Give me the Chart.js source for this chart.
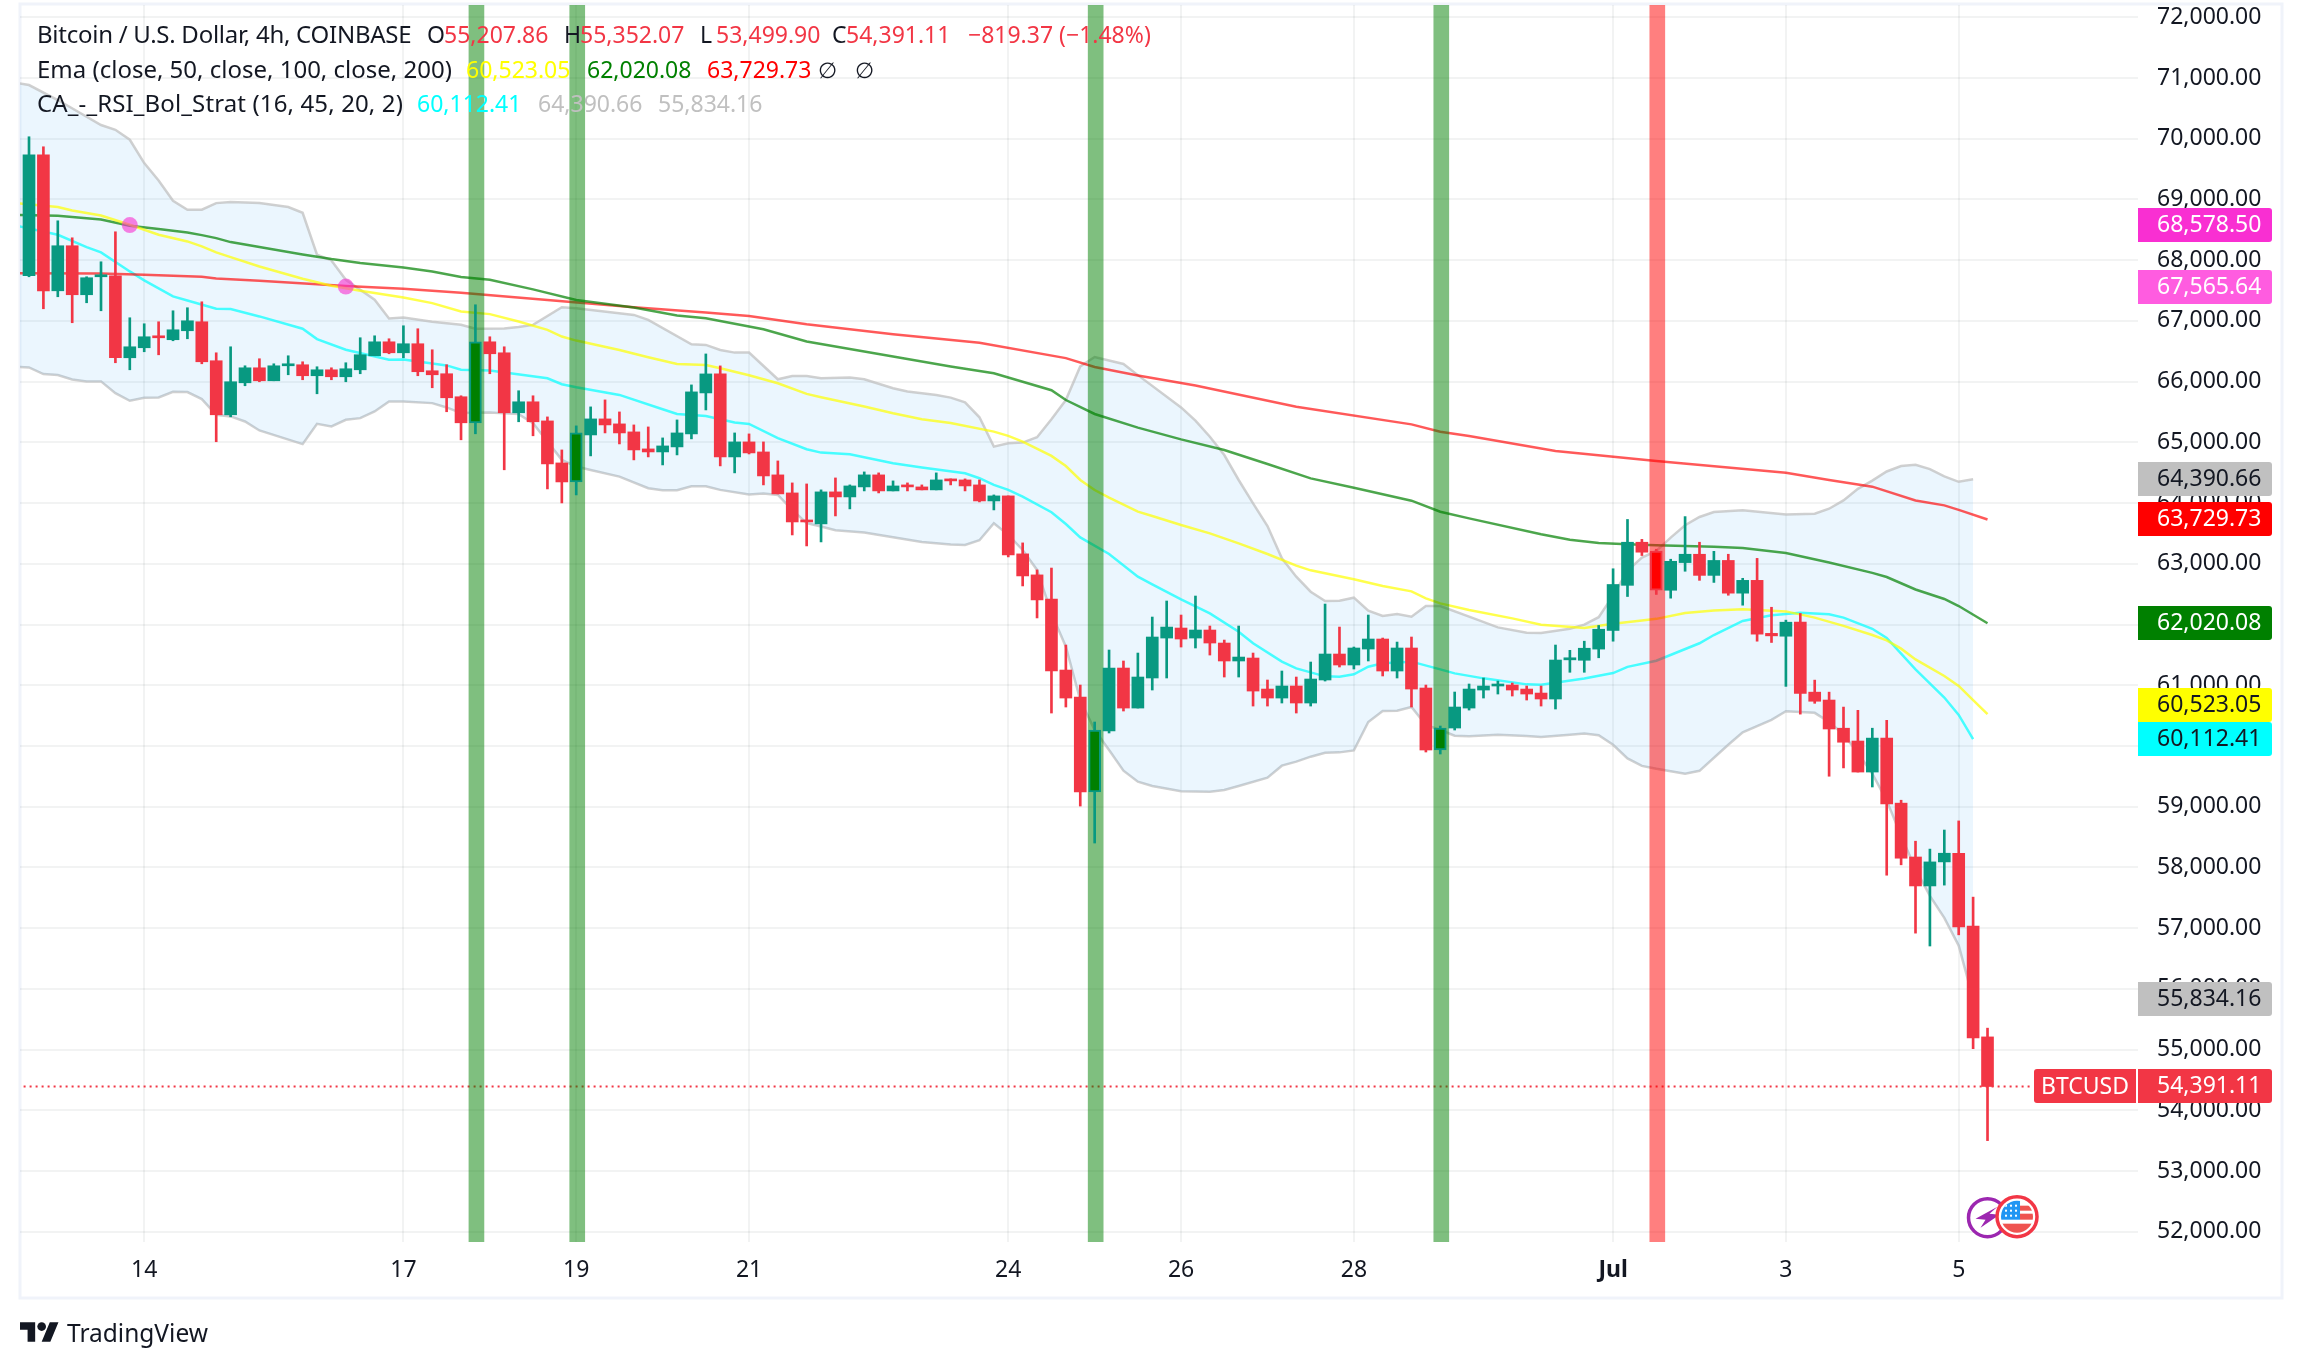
<!DOCTYPE html>
<html>
<head>
<meta charset="utf-8">
<title>BTCUSD</title>
<script src="https://cdn.jsdelivr.net/npm/chart.js@4"></script>
<style>
html,body{margin:0;padding:0;background:#fff;width:2302px;height:1368px;overflow:hidden}
#chart{position:absolute;left:0;top:0}
.t{position:absolute;font-family:"Noto Sans",sans-serif;font-size:23px;line-height:34px;white-space:pre;color:#131722}
#brand{position:absolute;left:20px;top:1322px}
</style>
</head>
<body>
<canvas id="chart" width="2302" height="1368"></canvas>
<div id="legend"></div>
<svg id="brand" width="39" height="21" viewBox="0 4 36 19"><path fill="#131722" d="M14 22H7V11H0V4h14v18zM28 22h-8l7.5-18h8L28 22z"/><circle fill="#131722" cx="20" cy="8" r="4"/></svg>
<div class="t" style="left:67px;top:1316px;font-size:24.5px">TradingView</div>
<script>
const candleOpen=[67744,69736,67496,68238,67431,67727,67744,66393,66558,66755,66690,66838,66986,66344,65454,65981,66228,66014,66261,66278,66097,66195,66080,66195,66426,66656,66475,66624,66179,66130,65751,65322,66656,66475,65487,65668,
65353,64661,64348,65122,65386,65304,65172,64892,64842,64925,65139,65814,66127,64760,65007,64842,64464,64167,63722,63657,64184,64101,64266,64464,64200,64299,64266,64217,64398,64381,64299,64035,64118,63163,62817,
62420,61250,60806,59241,60246,61283,60624,61119,61777,61942,61777,61909,61695,61399,61448,60937,60789,60987,60707,61086,61514,61333,61596,61761,61234,61613,60954,59933,60295,60624,60921,60987,61003,60937,60871,60773,
61418,61411,61595,61902,62645,63355,63211,62564,63020,63157,62809,63055,62516,62727,61854,61807,62038,60886,60756,60292,60081,59570,60129,59058,58171,57694,58090,58233,57033,55207.86];
const candleHigh=[70033,69868,68649,68369,67727,67974,68468,67052,66953,66986,67167,67217,67315,66475,66574,66261,66377,66294,66426,66327,66245,66228,66311,66723,66755,66706,66920,66871,66525,66278,65767,67266,66739,66574,65850,65767,
65419,64875,65271,65584,65699,65501,65287,65254,65073,65369,65946,66456,66259,65155,65139,65007,64694,64332,64315,64217,64414,64299,64513,64497,64365,64332,64299,64497,64398,64398,64381,64134,64118,63344,62899,
62930,61662,61003,60394,61580,61399,61530,62123,62387,62156,62469,61975,61744,61975,61530,61086,61234,61135,61382,62337,61958,61629,62156,61777,61711,61794,61003,60328,60888,61020,61119,61069,61036,60987,60987,61662,
61575,61725,61984,62918,63730,63402,63239,63075,63777,63355,63205,63157,62761,63089,62284,62072,62182,61084,60886,60640,60586,60292,60422,59106,58431,58301,58615,58765,57510,55352.07];
const candleLow=[67727,67200,67398,66970,67299,67167,66311,66195,66492,66442,66673,66706,66294,65010,65421,65932,65998,66014,66113,66031,65800,66031,65998,66130,66426,66459,66393,66097,65899,65504,65042,65141,66130,64548,65339,65108,
64233,64002,64134,64777,65155,64974,64711,64760,64628,64793,65057,65534,64612,64497,64809,64299,64151,63475,63294,63360,63788,63904,64200,64167,64200,64200,64217,64217,64299,64200,64019,63887,63113,62635,62108,
60542,60641,59010,58401,60213,60575,60624,60921,61119,61629,61613,61497,61135,61135,60657,60657,60707,60542,60657,61069,61300,61267,61399,61152,61119,60641,59900,59867,60262,60591,60789,60855,60822,60756,60657,60608,
61213,61213,61452,61725,62461,63136,62495,62434,62877,62727,62693,62482,62318,61725,61704,60981,60524,60702,59501,59638,59570,59324,57871,58042,56917,56705,57708,56889,55014,53499.90];
const candleClose=[69736,67496,68238,67431,67711,67760,66393,66574,66739,66722,66854,67002,66327,65454,65998,66228,66014,66261,66294,66097,66195,66080,66212,66443,66656,66475,66624,66163,66113,65734,65322,66656,66459,65487,65668,65339,
64645,64348,65155,65386,65287,65155,64875,64842,64941,65155,65831,66127,64760,65007,64826,64447,64151,63689,63689,64184,64101,64282,64464,64200,64282,64266,64217,64381,64365,64282,64035,64118,63146,62800,62405,
61234,60789,59241,60262,61283,60624,61135,61794,61958,61761,61909,61695,61399,61464,60904,60789,60987,60707,61102,61514,61333,61613,61761,61234,61613,60937,59933,60295,60641,60937,60987,61020,60921,60855,60773,61415,
61452,61609,61922,62659,63355,63191,62564,63041,63157,62809,63055,62516,62727,61841,61813,62038,60865,60736,60279,60061,59570,60129,59044,58151,57694,58090,58233,57019,55191,54391.11];

const ema50Bars=[-1,2,3,5,7,9,11,12,13,14,16,19,21,23,26,28,30,32,34,36,37,38,41,43,45,47,48,50,52,54,55,58,60,62,64,67,68,69,71,72,73,74,75,77,78,80,82,84,86,88,89,92,94,96,97,98,100,103,105,108,110,112,113,115,117,119,122,124,126,128,129,130,131,133,134,135,136];
const ema50=[68940,68875,68820,68737,68584,68419,68309,68227,68128,68051,67897,67694,67579,67497,67387,67293,67156,67112,66991,66852,66742,66676,66522,66402,66292,66275,66220,66105,65973,65798,65743,65589,65479,65380,65320,65177,65106,65013,64777,64610,64380,64215,64089,63858,63787,63638,63501,63336,63161,62969,62892,62744,62634,62546,62431,62348,62239,62101,61997,61943,62011,62066,62093,62188,62229,62250,62216,62113,61977,61827,61738,61602,61425,61152,60988,60756,60523.05];
const ema100Bars=[-1,2,5,7,9,11,12,13,14,16,19,21,23,26,28,30,32,35,38,42,45,47,51,54,60,64,67,71,72,74,77,80,83,86,89,92,96,98,100,105,107,109,111,113,117,119,122,125,128,129,131,133,134,136];
const ema100=[68748,68732,68671,68567,68512,68457,68413,68364,68298,68216,68095,68018,67952,67881,67815,67722,67678,67519,67346,67220,67088,67044,66863,66660,66413,66248,66138,65858,65697,65467,65242,65049,64874,64643,64407,64253,64039,63858,63748,63485,63396,63341,63321,63307,63280,63259,63177,63020,62850,62782,62577,62420,62304,62020.08];
const ema200Bars=[-1,5,8,12,13,16,22,26,30,36,42,47,50,54,60,66,72,74,77,81,88,96,98,100,106,113,122,125,128,131,133,134,136];
const ema200=[67787,67782,67760,67727,67700,67661,67573,67529,67464,67346,67225,67137,67082,66945,66780,66640,66387,66240,66100,65935,65587,65296,65176,65104,64857,64692,64498,64380,64270,64043,63962,63887,63729.73];
const basisBars=[-1,2,4,5,7,8,10,11,13,14,16,19,20,22,25,26,29,30,32,36,37,38,41,44,45,47,49,50,52,54,55,57,60,62,65,66,67,68,69,71,72,73,75,77,78,80,82,84,85,87,88,90,91,92,93,94,96,98,99,101,104,105,108,110,111,113,116,117,119,121,123,125,126,128,129,131,133,134,135];
const basis=[68573,68419,68216,68128,67815,67667,67403,67337,67200,67195,67074,66871,66701,66525,66360,66366,66267,66195,66184,66056,65957,65907,65781,65545,65468,65435,65326,65304,65068,64886,64831,64804,64656,64584,64491,64409,64299,64217,64107,63849,63655,63435,63161,62787,62661,62414,62184,61882,61690,61388,61278,61146,61140,61179,61305,61360,61388,61261,61195,61113,61014,61009,61111,61200,61302,61404,61691,61827,62059,62154,62195,62168,62113,61929,61779,61261,60797,60511,60112.41];
const upperBars=[-1,0,2,5,6,7,8,9,10,11,12,13,14,16,18,19,20,21,22,24,25,26,28,30,31,33,34,35,37,38,42,43,46,47,48,49,50,52,53,54,55,57,58,60,61,63,64,65,66,67,68,69,70,71,72,73,74,76,77,80,81,82,83,84,85,86,87,88,89,90,91,92,93,94,95,96,97,98,100,102,104,105,107,108,109,110,111,112,113,114,115,116,117,119,122,124,125,126,127,128,129,130,131,132,133,134,135];
const upper=[70923,70885,70638,70226,70148,69984,69599,69314,68979,68831,68831,68940,68957,68940,68875,68781,68090,67996,67678,67348,67041,67057,66986,66937,66871,66876,66898,66934,67225,67209,67099,67016,66616,66605,66522,66478,66478,66039,66094,66094,66056,66067,66039,65891,65836,65781,65737,65660,65413,64930,64985,64996,65084,65380,65697,66250,66405,66290,66107,65576,65357,65093,64791,64380,63995,63622,63089,62787,62540,62387,62392,62442,62228,62140,62173,62129,62304,62304,62129,61953,61865,61860,61929,61997,62120,62475,62884,63102,63211,63430,63634,63771,63853,63880,63812,63825,63907,64043,64235,64370,64520,64610,64630,64560,64440,64350,64390.66];
const lowerBars=[-1,0,1,2,3,4,5,6,7,8,9,10,11,12,13,14,15,16,19,20,21,22,23,24,25,26,28,29,30,32,34,35,37,38,39,41,43,44,45,46,47,48,50,51,52,53,54,55,56,58,60,62,64,65,66,67,68,69,70,71,72,73,74,75,76,77,78,80,82,83,84,86,87,88,89,90,91,92,93,94,95,96,97,98,99,100,102,104,105,107,108,109,110,111,112,113,115,116,118,119,121,122,123,124,125,126,127,128,129,130,131,132,133,134,135];
const lower=[66245,66234,66124,66108,66036,66004,66004,65811,65685,65734,65740,65833,65828,65712,65454,65427,65344,65196,64971,65306,65262,65372,65399,65509,65674,65674,65646,65575,65482,65493,65465,65315,64711,64601,64546,64436,64244,64211,64211,64277,64277,64217,64140,64156,64134,63887,63668,63613,63552,63514,63437,63360,63316,63311,63388,63668,63476,63228,62899,62184,61635,60756,60262,59933,59592,59411,59340,59252,59246,59274,59340,59477,59675,59741,59823,59889,59894,59927,60394,60575,60581,60641,60344,60262,60169,60158,60185,60163,60147,60183,60204,60177,60020,59795,59672,59624,59542,59590,60020,60224,60429,60572,60558,60545,60395,60190,59883,59542,59099,58519,57974,57530,57169,56712,55834.16];

const buySignalBars=[31,38,74,98];
const sellSignalBars=[113];
const crossBars=[7,22];
const crossValues=[68578.50,67565.64];
const lastPrice=54391.11;

const xTickBars=[8,26,38,50,68,80,92,110,122,134];
const xTickLabels=['14','17','19','21','24','26','28','Jul','3','5'];
const yTickValues=[52000,53000,54000,55000,56000,57000,58000,59000,60000,61000,62000,63000,64000,65000,66000,67000,68000,69000,70000,71000,72000];
const priceTags=[68578.50,67565.64,64390.66,63729.73,62020.08,60523.05,60112.41,55834.16,54391.11];
const priceTagFill=['#f92fd2','#ff5ce0','#c0c0c0','#ff0000','#008000','#ffff00','#00ffff','#c0c0c0','#f23645'];
const priceTagInk=['#ffffff','#ffffff','#131722','#ffffff','#ffffff','#131722','#131722','#131722','#ffffff'];

const legendRows=[
 [34,[[37,'Bitcoin / U.S. Dollar, 4h, COINBASE','#131722',24,-0.26],[427,'O','#131722'],[444,'55,207.86','#f23645'],[564,'H','#131722'],[580,'55,352.07','#f23645'],[700,'L','#131722'],[716,'53,499.90','#f23645'],[832,'C','#131722'],[846,'54,391.11','#f23645'],[968,'−819.37 (−1.48%)','#f23645']]],
 [69,[[37,'Ema (close, 50, close, 100, close, 200)','#131722',24,0],[466,'60,523.05','#ffff00'],[587,'62,020.08','#008000'],[707,'63,729.73','#ff0000'],[818,'∅','#131722',22,0],[855,'∅','#131722',22,0]]],
 [103,[[37,'CA_-_RSI_Bol_Strat (16, 45, 20, 2)','#131722',24,0.13],[417,'60,112.41','#00ffff'],[538,'64,390.66','#c0c0c0'],[658,'55,834.16','#c0c0c0']]]
];
const legend=document.getElementById('legend');
legendRows.forEach(([cy,items])=>items.forEach(([x,s,c,fs,ls])=>{const d=document.createElement('div');d.className='t';d.style.left=x+'px';d.style.top=(cy-17)+'px';d.style.color=c;if(fs)d.style.fontSize=fs+'px';if(ls)d.style.letterSpacing=ls+'px';d.textContent=s;legend.appendChild(d);}));

const FONT='"Noto Sans",sans-serif';
const UP='#089981',DOWN='#f23645';
const GRID='rgba(42,46,57,0.06)';
const TAG_H=34;
const yMin=51830,yMax=72203,xMin=-0.625,xMax=146.45;
const zip=(xs,ys)=>xs.map((x,i)=>({x,y:ys[i]}));
const bars=candleOpen.map((_,i)=>i);
const rising=i=>candleClose[i]>=candleOpen[i];
const buy=i=>buySignalBars.includes(i), sell=i=>sellSignalBars.includes(i);

const lineDs=(label,xs,ys,color,order,extra)=>Object.assign({type:'line',label,data:zip(xs,ys),borderColor:color,borderWidth:2.5,pointRadius:0,tension:0,fill:false,order},extra||{});

const decor={id:'decor',
 beforeDraw(c){const g=c.ctx;g.save();g.strokeStyle='#f0f3fa';g.lineWidth=3;g.strokeRect(20,4,2262,1294);g.restore();},
 afterDraw(c){
  const g=c.ctx,y=c.scales.y,x=c.scales.x;
  g.save();
  // tags that would collide are pushed upward, working from the lowest one
  const tagY=priceTags.map(v=>Math.round(y.getPixelForValue(v)));
  for(let i=tagY.length-2;i>=0;i--){if(tagY[i]+TAG_H>tagY[i+1])tagY[i]=tagY[i+1]-TAG_H;}
  priceTags.forEach((v,i)=>{
   const py=tagY[i];
   g.fillStyle=priceTagFill[i];g.beginPath();g.roundRect(2138,py-17,134,TAG_H,[0,3,3,0]);g.fill();
   g.fillStyle=priceTagInk[i];g.font='23px '+FONT;g.textBaseline='middle';g.textAlign='left';
   g.fillText(v.toLocaleString('en-US',{minimumFractionDigits:2,maximumFractionDigits:2}),2157,py);
  });
  const py=Math.round(y.getPixelForValue(lastPrice));
  g.fillStyle=DOWN;g.beginPath();g.roundRect(2034,py-17,102,TAG_H,[3,0,0,3]);g.fill();
  g.fillStyle='#fff';g.font='23px '+FONT;g.textAlign='center';g.fillText('BTCUSD',2085,py+1);
  // event badges under the last bar
  const ex=x.getPixelForValue(candleOpen.length-1),ey=y.getPixelForValue(52000)-15;
  g.lineWidth=3.5;g.strokeStyle='#9c27b0';g.fillStyle='#fff';
  g.beginPath();g.arc(ex,ey+1,19,0,Math.PI*2);g.fill();g.stroke();
  g.fillStyle='#9c27b0';g.beginPath();
  [[10,-10],[-12,2],[-2,3],[-7,11],[12,-2],[2,-3]].forEach(([a,b],k)=>k?g.lineTo(ex+a,ey+b):g.moveTo(ex+a,ey+b));g.closePath();g.fill();
  const fx=ex+29.5,fy=ey;
  g.fillStyle='#fff';g.beginPath();g.arc(fx,fy,20,0,Math.PI*2);g.fill();
  g.save();g.beginPath();g.arc(fx,fy,16,0,Math.PI*2);g.clip();
  g.fillStyle='#fff';g.fillRect(fx-17,fy-17,34,34);
  g.fillStyle='#ef5350';g.fillRect(fx+3,fy-11,14,5);g.fillRect(fx+3,fy-3,14,6);g.fillRect(fx-17,fy+7,34,10);
  g.fillStyle='#2196f3';g.fillRect(fx-17,fy-17,20,20);
  g.fillStyle='#fff';for(let a=0;a<3;a++)for(let b=0;b<3;b++)g.fillRect(fx-12+a*5,fy-12+b*5,2,2);
  g.restore();
  g.strokeStyle=DOWN;g.lineWidth=3.5;g.beginPath();g.arc(fx,fy,20,0,Math.PI*2);g.stroke();
  g.restore();
 }};

new Chart(document.getElementById('chart'),{
 type:'bar',
 plugins:[decor],
 data:{datasets:[
  {type:'bar',label:'bodies',order:0,grouped:false,barThickness:12,borderSkipped:false,
   data:bars.map(i=>({x:i,y:[candleOpen[i],candleClose[i]]})),
   backgroundColor:bars.map(i=>buy(i)?'#008000':sell(i)?'#ff0000':rising(i)?UP:DOWN),
   borderColor:bars.map(i=>rising(i)?UP:DOWN),
   borderWidth:bars.map(i=>buy(i)||sell(i)?2:0)},
  {type:'bar',label:'wicks',order:1,grouped:false,barThickness:2,borderWidth:0,
   data:bars.map(i=>({x:i,y:[candleLow[i],candleHigh[i]]})),
   backgroundColor:bars.map(i=>rising(i)?UP:DOWN)},
  {type:'scatter',label:'crosses',order:2,data:zip(crossBars,crossValues),pointRadius:8,pointBorderWidth:0,backgroundColor:'rgba(249,47,208,.6)',showLine:false},
  {type:'bar',label:'buy signals',order:3,grouped:false,barThickness:15,borderWidth:0,
   data:buySignalBars.map(b=>({x:b+0.07,y:[yMin,yMax]})),backgroundColor:'rgba(0,128,0,.5)'},
  {type:'bar',label:'sell signals',order:3,grouped:false,barThickness:15,borderWidth:0,
   data:sellSignalBars.map(b=>({x:b+0.07,y:[yMin,yMax]})),backgroundColor:'rgba(255,0,0,.5)'},
  lineDs('EMA 50',ema50Bars,ema50,'rgba(255,255,0,.7)',4),
  lineDs('EMA 100',ema100Bars,ema100,'rgba(0,128,0,.7)',4),
  lineDs('EMA 200',ema200Bars,ema200,'rgba(255,0,0,.65)',4),
  lineDs('Basis',basisBars,basis,'rgba(0,255,255,.7)',5),
  lineDs('Upper',upperBars,upper,'rgba(192,192,192,.75)',6,{fill:'+1',backgroundColor:'rgba(33,150,243,.09)'}),
  lineDs('Lower',lowerBars,lower,'rgba(192,192,192,.75)',6),
  {type:'line',label:'last',order:7,data:[{x:xMin-1,y:lastPrice},{x:139.2,y:lastPrice}],borderColor:DOWN,borderWidth:2,borderDash:[2,4],pointRadius:0}
 ]},
 options:{
  responsive:false,animation:false,devicePixelRatio:1,
  layout:{autoPadding:false,padding:{left:20,top:5,right:20,bottom:70}},
  plugins:{legend:{display:false},tooltip:{enabled:false},filler:{propagate:false}},
  events:[],
  scales:{
   x:{type:'linear',min:xMin,max:xMax,offset:false,
    grid:{color:GRID,lineWidth:2,drawTicks:false,offset:false},border:{display:false},
    afterBuildTicks(s){s.ticks=xTickBars.map(v=>({value:v}));},
    afterFit(s){s.height=56;s.paddingLeft=0;s.paddingRight=0;},
    ticks:{autoSkip:false,maxRotation:0,padding:15,color:'#131722',
     font:c=>({family:FONT,size:23,weight:xTickLabels[c.index]==='Jul'?'bold':'normal'}),
     callback:(v,i)=>xTickLabels[i]}},
   y:{type:'linear',position:'right',min:yMin,max:yMax,
    grid:{color:GRID,lineWidth:2,drawTicks:false},border:{display:false},
    afterBuildTicks(s){s.ticks=yTickValues.map(v=>({value:v}));},
    afterFit(s){s.width=144;s.paddingTop=0;s.paddingBottom=0;},
    ticks:{autoSkip:false,padding:19,color:'#131722',font:{family:FONT,size:23},
     callback:v=>v.toLocaleString('en-US',{minimumFractionDigits:2,maximumFractionDigits:2})}}
  }
 }
});
</script>
</body>
</html>
